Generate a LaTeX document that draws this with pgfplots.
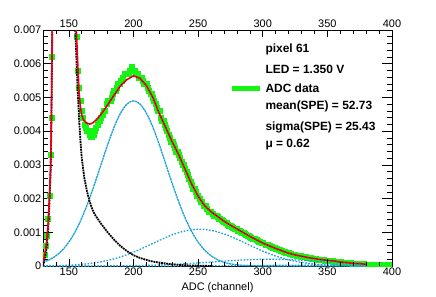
\documentclass[border=0pt]{standalone}
\usepackage{fontspec}
\setmainfont{Liberation Sans}
\usepackage{pgfplots}
\usepackage{pgfplotstable}
\pgfplotsset{compat=1.18}
\definecolor{cyanc}{RGB}{25,160,215}
\definecolor{datag}{RGB}{20,245,20}

\pgfplotstableread{
x y
130 0.0001
131 0.0003
132 0.0005
133 0.0008
134 0.0013
135 0.0021
136 0.0031
136.5 0.0045
137 0.0065
137.5 0.009
140 0.03
150 0.03
153 0.0105
154 0.009
155 0.0078
156 0.0068
157 0.0059
158 0.0051
159 0.0047
160 0.00448
161 0.00436
162 0.0043
164 0.00423
166 0.00421
168 0.00423
170 0.00429
172 0.00437
175 0.0045
180 0.00478
185 0.00507
190 0.00535
195 0.00553
200 0.00564
205 0.00557
210 0.00535
215 0.005
220 0.00452
225 0.0041
230 0.00368
235 0.0033
240 0.00286
245 0.00243
250 0.00207
255 0.00179
260 0.00161
265 0.00147
270 0.00133
275 0.00121
280 0.0011
285 0.00099
290 0.00088
295 0.00078
300 0.00068
305 0.0006
310 0.00052
315 0.00045
320 0.00038
325 0.00033
330 0.00029
335 0.00025
340 0.00022
345 0.00019
350 0.00017
355 0.00015
360 0.00012
365 0.0001
370 0.00008
375 0.00007
380 0.00005
}\fitdata

\pgfplotstableread{
x y
130 0.0
131 0.00015
132 0.00035
133 0.0006
134 0.0011
135 0.0019
136 0.0029
136.5 0.0043
137 0.0063
137.5 0.0088
140 0.03
150 0.03
153 0.0095
154 0.0082
155 0.007
156 0.006
157 0.0051
158 0.0043
159 0.0037
160 0.0032
162 0.0026
164 0.00222
166 0.00192
168 0.0017
170 0.00153
175 0.00125
180 0.001
185 0.00078
190 0.00059
195 0.00044
200 0.00032
205 0.00024
210 0.00018
215 0.00013
220 0.0001
230 0.00005
240 0.00002
250 0.00001
260 0
}\peddata

\pgfplotstableread{
x y
130 0.000111
135 0.000187
140 0.000303
145 0.000473
150 0.000709
155 0.001024
160 0.001422
165 0.001901
170 0.002443
175 0.003022
180 0.003597
185 0.004118
190 0.004535
195 0.004806
200 0.0049
205 0.004806
210 0.004535
215 0.004118
220 0.003597
225 0.003022
230 0.002443
235 0.001901
240 0.001422
245 0.001024
250 0.000709
255 0.000473
260 0.000303
265 0.000187
270 0.000111
275 0.000063
280 0.000035
285 0.000018
290 0.000009
300 0.000002
310 0
380 0
}\gone

\pgfplotstableread{
x y
130 0.0000045
140 0.0000107
150 0.000024
160 0.000049
170 0.000093
180 0.000164
190 0.00027
200 0.000411
210 0.00058
220 0.00076
230 0.000924
240 0.001042
250 0.00109
260 0.001057
270 0.000952
280 0.000795
290 0.000616
300 0.000443
310 0.000295
320 0.000183
330 0.000105
340 0.000056
350 0.000028
360 0.000013
370 0.000005
380 0.000002
}\gtwo

\pgfplotstableread{
x y
130 0
150 0.0000004
170 0.0000018
190 0.0000063
200 0.000011
210 0.000019
220 0.00003
230 0.000046
240 0.000066
250 0.00009
260 0.000117
270 0.000144
280 0.000169
290 0.000188
300 0.000198
310 0.000199
320 0.000189
330 0.000171
340 0.000147
350 0.00012
360 0.000093
370 0.000068
380 0.000048
}\gthree

\pgfplotstableread{
x y
130 0
200 0.000001
230 0.000002
260 0.000005
280 0.000009
300 0.000016
320 0.000022
340 0.000027
358 0.00003
380 0.000027
}\gfour

\pgfplotstableread{
x y
131 0.00035
132 0.0006
133 0.0009
134 0.0014
135 0.0021
136 0.0033
136.5 0.0044
137 0.0062
138 0.0095
156 0.0068
157 0.0058
158 0.0053
159 0.0049
160 0.0046
161 0.0044
162 0.0042
163 0.0041
164 0.0040
165 0.0040
166 0.0039
167 0.00383
168 0.00385
169 0.0039
170 0.0040
171 0.0041
172 0.0042
173 0.0043
174 0.0043
175 0.0044
176 0.0045
177 0.0046
178 0.0046
179 0.0048
180 0.0049
181 0.0049
182 0.0049
183 0.0050
184 0.0051
185 0.0052
186 0.0052
187 0.0053
188 0.0054
189 0.0054
190 0.0055
191 0.0055
192 0.0056
193 0.0057
194 0.0057
195 0.0057
196 0.0057
197 0.0058
198 0.0058
199 0.0059
200 0.0058
201 0.0058
202 0.0057
203 0.0057
204 0.0056
205 0.0056
206 0.0056
207 0.0055
208 0.0054
209 0.0054
210 0.0054
211 0.0053
212 0.0052
213 0.0051
214 0.0051
215 0.0050
216 0.0049
217 0.0048
218 0.0047
219 0.0046
220 0.0046
221 0.0044
222 0.0043
223 0.0043
224 0.0042
225 0.0041
226 0.0040
227 0.0039
228 0.0038
229 0.0037
230 0.0037
231 0.0036
232 0.0035
233 0.0034
234 0.0034
235 0.0033
236 0.0032
237 0.0031
238 0.0030
239 0.0030
240 0.0029
241 0.0028
242 0.0027
243 0.0026
244 0.0025
245 0.0024
246 0.0023
247 0.0023
248 0.0022
249 0.0021
250 0.0021
251 0.0020
252 0.0019
253 0.0019
254 0.0018
255 0.0018
256 0.0018
257 0.0017
258 0.0016
259 0.0016
260 0.0016
261 0.00155
262 0.0015
263 0.0015
264 0.0015
265 0.00145
266 0.0014
267 0.0014
268 0.00138
269 0.00133
270 0.0013
271 0.00128
272 0.00127
273 0.00122
274 0.0012
275 0.00119
276 0.00118
277 0.00114
278 0.0011
279 0.0011
280 0.00112
281 0.00106
282 0.00104
283 0.00101
284 0.0010
285 0.00098
286 0.00095
287 0.00093
288 0.0009
289 0.00089
290 0.00088
291 0.00085
292 0.00082
293 0.00081
294 0.0008
295 0.00077
296 0.00074
297 0.00073
298 0.00072
299 0.0007
300 0.00068
302 0.00064
303 0.00063
304 0.00062
305 0.0006
306 0.00058
307 0.00056
308 0.00054
309 0.00053
310 0.00052
311 0.0005
312 0.00048
313 0.00047
314 0.00046
315 0.00044
316 0.00042
317 0.00041
318 0.0004
319 0.00039
320 0.00038
321 0.00037
322 0.00036
323 0.00035
324 0.00034
325 0.00033
326 0.00032
327 0.00031
328 0.0003
329 0.0003
330 0.00029
332 0.00027
333 0.00027
334 0.00026
335 0.00025
336 0.00024
337 0.00024
338 0.00023
339 0.00022
340 0.00022
341 0.00021
342 0.0002
343 0.0002
344 0.0002
345 0.00019
346 0.00018
347 0.00018
348 0.00017
349 0.00017
350 0.00017
351 0.00016
352 0.00015
353 0.00015
354 0.00015
355 0.00014
356 0.00013
357 0.00013
358 0.00013
359 0.00012
360 0.00012
361 0.00011
362 0.00011
363 0.0001
364 0.0001
365 0.0001
366 0.0001
367 0.00009
368 0.00009
369 0.00008
370 0.00008
371 0.00008
372 0.00008
373 0.00007
374 0.00007
375 0.00007
376 0.00007
377 0.00006
378 0.00006
379 0.00005
380 0.00005
381 0.00005
382 0.00005
383 0.00004
384 0.00004
385 0.00004
386 0.00004
387 0.00004
388 0.00004
389 0.00003
390 0.00003
391 0.00003
392 0.00003
393 0.00003
394 0.00003
395 0.00002
396 0.00002
397 0.00003
398 0.00003
399 0.00002
}\adcdata

\begin{document}
\begin{tikzpicture}
\useasboundingbox (-43bp,-31bp) rectangle (393bp,266bp);
\begin{axis}[
  at={(0,0)}, anchor=south west,
  scale only axis, width=349bp, height=236bp,
  xmin=130, xmax=400, ymin=0, ymax=0.007,
  xtick={150,200,250,300,350,400},
  xticklabels={150,200,250,300,350,400},
  xtick style={draw=none},
  ytick={0,0.001,0.002,0.003,0.004,0.005,0.006,0.007},
  yticklabels={0,0.001,0.002,0.003,0.004,0.005,0.006,0.007},
  minor y tick num=4,
  ytick pos=both, yticklabel pos=left,
  scaled y ticks=false,
  major tick length=10bp, minor tick length=5bp,
  tick align=inside,
  tick style={black, line width=0.6pt},
  axis line style={line width=0.8pt},
  /pgf/number format/assume math mode=true,
  tick label style={font=\fontsize{11}{13}\selectfont},
  yticklabel style={inner sep=1.5bp},
  xticklabel style={inner sep=2bp},
  xlabel={ADC (channel)},
  xlabel style={font=\fontsize{11}{13}\selectfont, inner sep=0pt, yshift=-4bp},
  clip=true,
  clip marker paths=true,
]
\addplot[only marks, mark=square*, mark size=2.5bp, datag, mark options={draw=datag, fill=datag}] table {\adcdata};
\addplot[cyanc, line width=1.3pt, dash pattern=on 2.2pt off 0.6pt, smooth] table {\gone};
\addplot[cyanc, line width=1.3pt, dash pattern=on 1.6pt off 1.6pt, smooth] table {\gtwo};
\addplot[cyanc, line width=1.3pt, dash pattern=on 1.6pt off 1.6pt, smooth] table {\gthree};
\addplot[cyanc, line width=1.3pt, dash pattern=on 1.6pt off 1.6pt, smooth] table {\gfour};
\addplot[black, line width=1.8pt, dash pattern=on 1.8pt off 0.8pt] table {\peddata};
\addplot[red, line width=1.6pt] table {\fitdata};
\addplot[blue, line width=0.7pt, dash pattern=on 0.7pt off 3pt] table {\fitdata};
\draw[datag, line width=4.5bp] (axis cs:276,0.00526) -- (axis cs:297.7,0.00526);
\begin{scope}[every node/.style={anchor=west, inner sep=0pt, font=\fontsize{12}{14}\selectfont\bfseries}]
\node at (axis cs:302,0.00641) {pixel 61};
\node at (axis cs:302,0.00582) {LED = 1.350 V};
\node at (axis cs:302,0.00526) {ADC data};
\node at (axis cs:302,0.00472) {mean(SPE) = 52.73};
\node at (axis cs:302,0.00412) {sigma(SPE) = 25.43};
\node at (axis cs:302,0.00359) {μ = 0.62};
\end{scope}
\end{axis}
\begin{axis}[
  at={(0,0)}, anchor=south west,
  scale only axis, width=349bp, height=236bp,
  xmin=130, xmax=400, ymin=0, ymax=0.007,
  axis line style={draw=none},
  ytick=\empty,
  xtick={150,200,250,300,350,400},
  xticklabels={150,200,250,300,350,400},
  minor xtick={130,140,160,170,180,190,210,220,230,240,260,270,280,290,310,320,330,340,360,370,380,390},
  xtick pos=both, xticklabel pos=upper,
  major tick length=7bp, minor tick length=4bp,
  tick align=inside,
  tick style={black, line width=0.6pt},
  tick label style={font=\fontsize{11}{13}\selectfont},
  xticklabel style={inner sep=2bp},
]
\addplot[draw=none] coordinates {(130,0)};
\end{axis}
\end{tikzpicture}
\end{document}
